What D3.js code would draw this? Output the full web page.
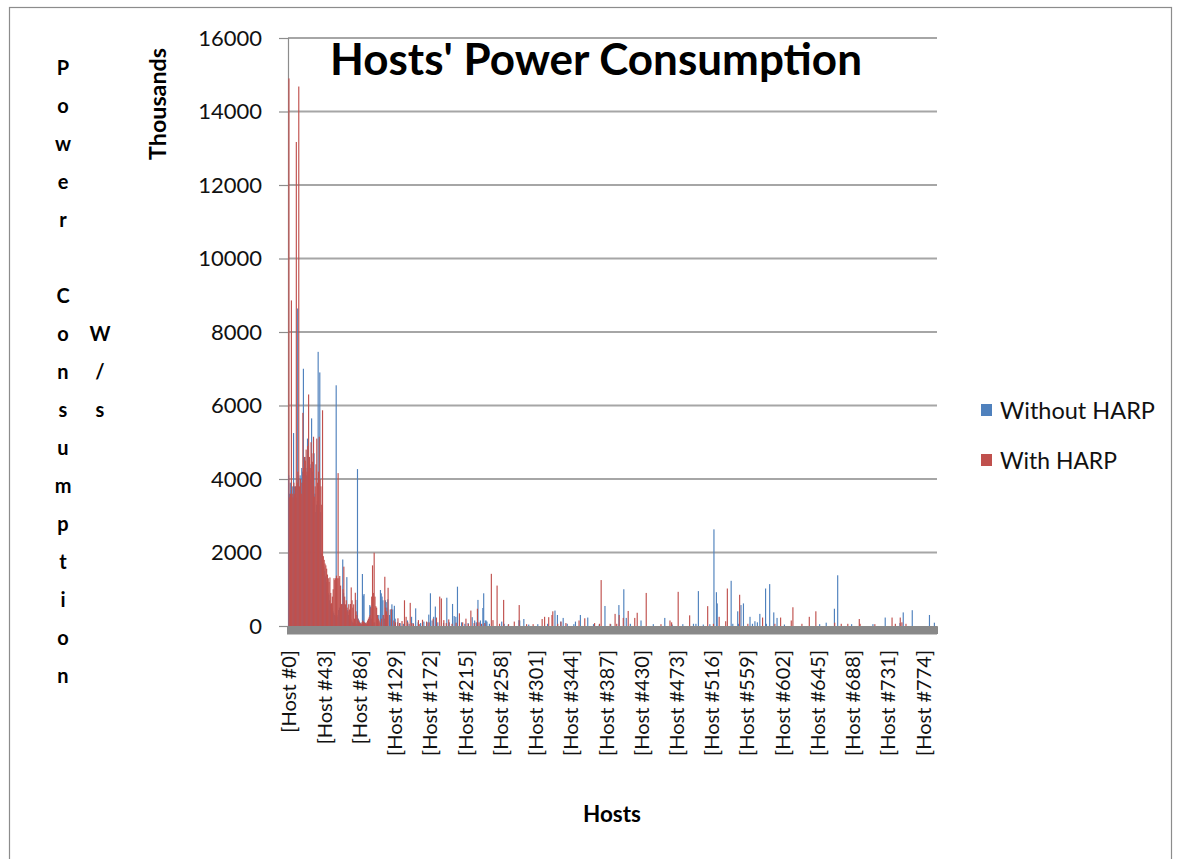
<!DOCTYPE html>
<html><head><meta charset="utf-8">
<script src="https://cdn.jsdelivr.net/npm/d3@7"></script>
<style>body{margin:0;background:#fff;} svg{display:block;font-family:Lato,"Liberation Sans",sans-serif;}</style>
</head><body><svg id="chart" width="1178" height="859"></svg>
<script>
// ---------------- DATA ----------------
const chartTitle = "Hosts' Power Consumption";
const seriesNames = ["Without HARP", "With HARP"];
// values in thousands of W/s, one per host
const withoutHarp = [
4100,3600,3900,3700,3500,3800,5250,3800,3600,3800,3500,8640,4000,3700,4100,3900,4300,4200,7000,4400,
4600,4300,4100,5100,4200,4000,4400,4000,5650,4200,3340,4700,3600,3100,3300,3400,7460,3300,6900,3100,
1980,1800,1700,1600,1500,1350,1200,1000,900,850,700,600,550,500,400,350,300,280,6550,300,
250,435,500,400,300,600,1810,900,600,435,400,1330,435,300,200,250,200,150,100,80,
120,100,710,60,4270,200,150,100,60,50,1415,830,870,100,80,60,50,40,100,570,
530,200,0,100,0,100,0,0,150,0,300,0,980,890,800,700,300,200,700,650,
500,725,0,300,450,200,590,450,0,550,200,0,0,100,0,0,80,0,0,0,
60,0,0,0,0,150,0,60,0,0,250,0,80,0,0,480,0,0,100,
0,0,80,0,0,0,120,0,0,0,100,0,310,0,890,0,150,0,250,0,
530,0,0,100,0,0,0,0,0,0,80,0,0,0,770,0,0,100,0,0,
0,600,0,270,0,250,0,1070,0,0,0,0,100,0,0,0,60,0,0,0,
80,0,0,0,0,240,0,0,150,0,100,0,710,0,0,150,0,0,490,890,
0,150,150,120,0,0,60,0,0,0,0,0,0,0,0,0,0,0,0,
0,0,120,0,0,60,0,0,0,0,40,0,0,0,0,0,0,0,0,0,
0,0,0,160,150,0,0,0,0,190,0,0,0,0,0,40,0,0,0,0,
0,0,0,0,0,0,50,0,0,0,0,0,0,0,0,0,0,0,60,0,
0,0,0,0,0,0,0,420,0,0,300,0,0,0,120,0,0,220,0,
0,0,0,60,0,0,0,0,0,0,0,50,0,120,0,0,0,0,0,300,
0,0,0,0,0,0,0,0,230,0,0,0,0,0,0,50,0,0,0,0,
0,0,40,0,0,0,0,0,0,545,0,0,0,0,0,0,50,0,0,0,
0,0,0,0,0,0,570,0,0,0,0,0,1000,0,0,220,0,0,0,0,
60,0,0,0,0,0,0,0,0,0,0,0,0,150,0,0,0,0,0,0,
0,0,0,0,0,0,0,0,50,0,0,0,0,0,0,0,0,0,0,
0,0,0,220,0,0,0,0,0,0,0,0,40,0,0,0,0,0,0,0,
0,0,0,0,0,50,0,0,0,0,0,0,0,0,0,0,0,0,60,0,
0,60,0,0,950,0,0,0,0,0,40,0,0,0,0,0,0,0,50,0,
0,0,0,2630,0,0,920,615,0,0,0,0,0,0,0,0,0,0,0,0,
0,0,0,0,1230,0,60,0,0,0,0,0,400,60,0,0,570,0,0,
615,0,0,0,0,0,0,0,250,0,0,60,0,0,130,0,0,100,0,0,
330,0,0,0,0,0,0,1020,60,0,0,0,1140,0,0,0,0,370,0,0,
0,220,0,0,0,0,0,0,0,0,40,0,0,0,0,0,0,0,0,0,
0,0,0,0,0,0,0,0,0,0,0,0,0,0,0,0,0,0,0,0,
0,0,0,0,0,0,0,0,0,0,0,0,0,50,0,0,0,0,0,
0,0,90,0,0,0,0,0,0,0,0,0,470,0,0,0,1380,0,0,0,
0,0,0,0,0,0,0,0,0,0,0,0,0,50,0,0,0,0,0,0,
0,0,0,0,0,0,0,0,0,0,0,0,0,0,0,0,0,0,0,
50,0,0,0,0,0,0,0,0,0,0,0,0,0,0,230,0,0,0,0,
0,0,0,0,0,0,0,0,0,0,0,0,0,80,0,0,0,370,0,0,
0,0,0,0,0,0,0,0,430,0,0,0,0,0,0,0,0,0,0,0,
0,0,0,0,0,0,0,0,0,300,0,0,0,0,0,90,0,0,0
];
const withHarp = [
14900,3500,3600,8860,3600,3500,3900,3600,3800,13170,3900,4200,14680,3800,4000,3600,3900,5800,4300,4600,
4500,4800,4200,4900,6300,4600,4300,5000,4700,4470,5150,3520,3800,4400,5100,3900,4200,5150,4000,3800,
3300,5870,1900,1800,1700,1650,1560,1400,1300,1200,1320,900,620,800,1000,1300,1250,1300,1370,1300,
4160,1300,1360,1100,590,600,1000,1615,800,590,700,500,400,592,450,600,1050,700,500,590,
200,905,400,300,200,150,100,80,60,100,150,120,100,80,60,100,150,200,250,300,
500,800,1650,900,1995,800,540,500,300,200,150,100,0,200,0,300,0,1340,500,400,
300,1040,0,0,0,460,0,0,150,0,100,0,0,210,0,80,0,0,135,0,
0,700,0,250,0,100,0,0,630,0,80,0,60,0,0,0,0,0,160,
50,0,0,0,170,0,0,0,0,120,0,0,100,0,0,0,0,200,0,0,
0,230,0,0,0,800,0,750,0,0,160,0,0,80,0,0,180,0,0,0,
60,0,0,0,0,90,0,0,0,345,0,0,0,100,0,0,0,200,0,0,
60,0,0,420,0,0,0,80,0,0,0,470,0,100,0,0,60,0,0,0,
80,0,0,0,0,0,0,0,1420,0,160,0,0,0,0,1100,0,0,60,
0,0,0,0,710,0,0,0,0,0,50,0,0,0,0,0,0,120,0,0,
0,0,0,570,0,0,0,0,0,0,0,0,50,0,0,0,0,0,0,0,
50,0,0,0,0,0,0,0,0,0,0,190,0,0,250,0,0,0,0,240,
0,0,0,300,400,0,0,0,0,0,60,0,0,0,120,0,0,0,0,
0,80,0,0,0,0,0,0,0,0,0,0,0,0,0,0,0,150,0,0,
0,0,0,0,210,0,0,0,0,0,0,0,0,0,0,0,80,0,0,0,
0,0,60,0,1250,0,0,0,0,0,0,0,0,0,0,60,0,0,0,0,
0,330,0,60,0,0,300,0,0,0,0,220,0,0,0,0,0,410,0,0,
0,0,0,0,0,220,0,0,360,0,0,0,0,0,0,0,0,0,0,900,
0,0,0,0,0,0,0,0,0,0,0,0,0,0,0,0,0,50,0,
0,0,0,0,0,0,0,0,0,150,0,100,0,0,0,0,0,0,0,930,
0,0,0,0,0,0,0,0,0,0,0,0,0,290,0,0,0,0,0,0,
0,0,0,0,0,0,0,0,0,0,0,0,0,0,0,540,0,0,0,0,
0,0,60,0,0,0,0,0,0,250,0,0,0,0,0,0,0,130,0,1020,
0,0,0,0,0,0,0,0,0,0,0,0,0,0,850,0,0,0,0,
0,0,0,0,0,60,0,0,0,0,0,0,0,0,0,0,0,0,0,0,
0,0,0,230,0,0,0,0,0,0,0,0,0,0,0,0,0,0,60,0,
0,0,0,0,0,230,0,0,0,0,0,0,0,0,0,0,0,0,150,0,
510,0,0,0,0,0,0,0,0,0,0,60,0,0,0,0,0,0,0,0,
250,0,0,0,0,0,0,0,400,0,0,0,0,0,0,0,0,0,0,
0,0,0,0,0,0,0,0,0,0,0,0,90,0,0,0,0,0,0,0,
60,0,0,0,0,0,0,0,60,0,0,0,0,0,0,0,0,0,0,0,
0,0,190,60,0,0,0,0,0,0,0,0,0,0,0,0,0,0,0,
0,0,50,0,0,0,0,0,0,0,0,0,0,0,0,0,0,0,0,0,
0,0,0,230,0,0,0,60,0,0,0,0,0,230,0,100,0,0,0,0,
60,0,0,0,0,0,0,0,0,0,0,0,0,0,0,0,0,0,0,0,
0,0,0,0,0,0,0,0,0,0,0,0,0,0,0,0,0,0,0
];
const hosts = withoutHarp.map((_, i) => `[Host #${i}]`);
const yTickValues = [0, 2000, 4000, 6000, 8000, 10000, 12000, 14000, 16000];
const labelStep = 43;
const yUnitLabel = "Thousands";
const yTitleLetters = ["P","o","w","e","r","","C","o","n","s","u","m","p","t","i","o","n"];
const yTitle2Letters = ["W","/","s"];
const xTitle = "Hosts";

// ---------------- DRAW ----------------
const svg = d3.select("#chart");
const colors = ["#4F81BD", "#C0504D"];
const L = 288, R = 937, T = 38, B = 626;

function fit(sel, target) {
  const fs = parseFloat(sel.attr("font-size"));
  const w = sel.node().getComputedTextLength();
  if (w > 0) sel.attr("font-size", fs * target / w);
  return sel;
}

svg.append("rect").attr("x", 9.5).attr("y", 7.5).attr("width", 1162).attr("height", 880)
  .attr("fill", "none").attr("stroke", "#8c8c8c").attr("stroke-width", 1.2);

const x = d3.scaleBand().domain(hosts).range([L, R]).padding(0);
const y = d3.scaleLinear().domain([0, 16000]).range([B, T]);

// gridlines
svg.append("g").selectAll("line").data(yTickValues.filter(v => v > 0)).join("line")
  .attr("x1", L).attr("x2", R).attr("y1", d => y(d)).attr("y2", d => y(d))
  .attr("stroke", "#a6a6a6").attr("stroke-width", 2);

// y axis
const yAxis = svg.append("g").attr("transform", `translate(${L},0)`)
  .call(d3.axisLeft(y).tickValues(yTickValues).tickSize(9).tickPadding(17).tickFormat(d3.format("d")));
yAxis.select(".domain").attr("stroke", "#8c8c8c").attr("stroke-width", 1.2);
yAxis.selectAll(".tick line").attr("stroke", "#8c8c8c").attr("stroke-width", 1.2);
yAxis.selectAll(".tick text").attr("font-size", 22).attr("fill", "#111")
  .attr("font-family", "Lato, 'Liberation Sans', sans-serif");

// bars
const bw = x.bandwidth();
const series = [withoutHarp, withHarp];
series.forEach((vals, s) => {
  svg.append("g").selectAll("rect").data(vals).join("rect")
    .attr("x", (d, i) => x(hosts[i]) + bw * (s === 0 ? 0.1 : 0.45))
    .attr("width", 1.15)
    .attr("y", d => y(d))
    .attr("height", d => B - y(d))
    .attr("fill", colors[s]);
});

// x axis: dense category tick marks form a solid gray band
const xAxis = svg.append("g").attr("transform", `translate(0,${B})`)
  .call(d3.axisBottom(x).tickSize(8).tickFormat(""));
xAxis.select(".domain").attr("stroke", "#898989");
xAxis.selectAll(".tick line").attr("stroke", "#898989").attr("stroke-width", 1);
svg.append("rect").attr("x", L - 1).attr("y", B).attr("width", R - L + 1).attr("height", 8.5)
  .attr("fill", "#898989");

// x tick labels
svg.append("g").selectAll("text").data(hosts.filter((h, i) => i % labelStep === 0)).join("text")
  .attr("transform", d => `translate(${x(d) + bw / 2},650) rotate(-90)`)
  .attr("text-anchor", "end").attr("dominant-baseline", "central")
  .attr("font-size", 20).attr("fill", "#111").text(d => d);

// title
fit(svg.append("text").attr("x", 596).attr("y", 75).attr("text-anchor", "middle")
  .attr("font-weight", "bold").attr("font-size", 40).attr("fill", "#000").text(chartTitle), 532);

// Thousands
fit(svg.append("text").attr("transform", "translate(166,104) rotate(-90)").attr("text-anchor", "middle")
  .attr("font-weight", "bold").attr("font-size", 19).attr("fill", "#000").text(yUnitLabel), 112);

// stacked y titles
svg.append("g").selectAll("text").data(yTitleLetters).join("text")
  .attr("x", 63).attr("y", (d, i) => 75 + i * 38).attr("text-anchor", "middle")
  .attr("font-weight", "bold").attr("font-size", 20).attr("fill", "#000").text(d => d);
svg.append("g").selectAll("text").data(yTitle2Letters).join("text")
  .attr("x", 100).attr("y", (d, i) => 75 + (7 + i) * 38).attr("text-anchor", "middle")
  .attr("font-weight", "bold").attr("font-size", 20).attr("fill", "#000").text(d => d);

// x title
fit(svg.append("text").attr("x", 612).attr("y", 822).attr("text-anchor", "middle")
  .attr("font-weight", "bold").attr("font-size", 20).attr("fill", "#000").text(xTitle), 58);

// legend
const legendY = [410, 460];
const legendW = [155, 117];
seriesNames.forEach((n, i) => {
  svg.append("rect").attr("x", 981).attr("y", legendY[i] - 6).attr("width", 11).attr("height", 12)
    .attr("fill", colors[i]);
  fit(svg.append("text").attr("x", 1000).attr("y", legendY[i]).attr("dominant-baseline", "central")
    .attr("font-size", 20).attr("fill", "#111").text(n), legendW[i]);
});
</script>
</body></html>
